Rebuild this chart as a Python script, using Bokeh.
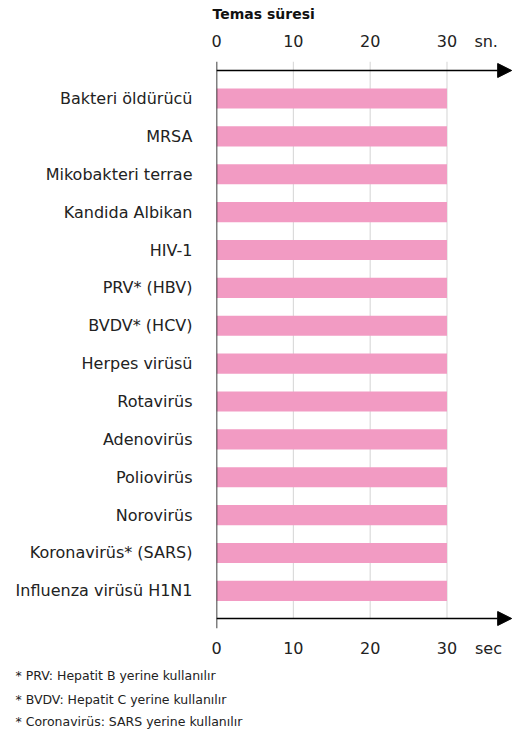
from bokeh.plotting import figure
from bokeh.models import (Range1d, LinearAxis, FixedTicker, Arrow, NormalHead, Title)
from bokeh.embed import file_html
from bokeh.resources import INLINE

# ---- data ----
categories = ["Bakteri öldürücü", "MRSA", "Mikobakteri terrae", "Kandida Albikan",
              "HIV-1", "PRV* (HBV)", "BVDV* (HCV)", "Herpes virüsü", "Rotavirüs",
              "Adenovirüs", "Poliovirüs", "Norovirüs", "Koronavirüs* (SARS)",
              "Influenza virüsü H1N1"]
contact_time = [30, 30, 30, 30, 30, 30, 30, 30, 30, 30, 30, 30, 30, 30]
x_ticks = [0, 10, 20, 30]
grid_ticks = [10, 20, 30]
title_text = "Temas süresi"
unit_top = "sn."
unit_bottom = "sec"
footnotes = ["* PRV: Hepatit B yerine kullanılır",
             "* BVDV: Hepatit C yerine kullanılır",
             "* Coronavirüs: SARS yerine kullanılır"]

FONT = "DejaVu Sans"
TXT = "#222222"
PINK = "#f29bc3"

rows = list(range(len(categories)))
PX_Y = 37.88                      # pixels per row
PX_X = 7.683                      # pixels per second
Y_AX_TOP = -0.74                  # top axis line (row units)
Y_AX_BOT = len(categories) - 1 + 0.73
Y_FR_TOP = Y_AX_TOP - 9 / PX_Y    # frame a little larger than the axes
Y_FR_BOT = Y_AX_BOT + 10 / PX_Y
W, H = 520, 735
ML, MR, MT = 216, 5, 61
FRAME_H = (Y_FR_BOT - Y_FR_TOP) * PX_Y
MB = H - MT - int(round(FRAME_H))
X_END = (W - ML - MR) / PX_X
X_TIP = 38.42
UNIT_X_TOP = 35.1
UNIT_X_BOT = 35.4

p = figure(width=W, height=H, output_backend="svg", toolbar_location=None, tools="",
           x_range=Range1d(0, X_END), y_range=Range1d(Y_FR_BOT, Y_FR_TOP),
           min_border_left=ML, min_border_right=MR, min_border_top=MT, min_border_bottom=MB)
p.outline_line_color = None
p.background_fill_color = "white"
p.border_fill_color = "white"
p.xgrid.grid_line_color = None
p.ygrid.grid_line_color = None

# grid lines (extend slightly above the top axis like tick marks)
p.segment(x0=grid_ticks, x1=grid_ticks, y0=[Y_FR_TOP] * len(grid_ticks), y1=[Y_AX_BOT] * len(grid_ticks),
          line_color="#d4d4d4", line_width=1)

p.hbar(y=rows, left=0, right=contact_time, height=0.53, fill_color=PINK, line_color=None)

# left axis with category labels
ya = p.yaxis[0]
ya.ticker = FixedTicker(ticks=rows)
ya.major_label_overrides = {i: c for i, c in zip(rows, categories)}
ya.axis_line_color = None
ya.major_tick_line_color = None
ya.minor_tick_line_color = None
ya.major_tick_out = 0
ya.major_tick_in = 0
ya.major_label_standoff = 24
ya.major_label_text_font = FONT
ya.major_label_text_font_size = "16px"
ya.major_label_text_color = TXT


def style_x(ax, standoff):
    ax.axis_line_color = None
    ax.major_tick_line_color = None
    ax.minor_tick_line_color = None
    ax.major_tick_out = 0
    ax.major_tick_in = 0
    ax.major_label_standoff = standoff
    ax.major_label_text_font = FONT
    ax.major_label_text_font_size = "16px"
    ax.major_label_text_color = TXT


# bottom axis (unit as an extra labelled tick)
xb = p.xaxis[0]
xb.ticker = FixedTicker(ticks=x_ticks + [UNIT_X_BOT])
xb.major_label_overrides = {UNIT_X_BOT: unit_bottom}
style_x(xb, 10)

# top axis
xt = LinearAxis(ticker=FixedTicker(ticks=x_ticks + [UNIT_X_TOP]))
xt.major_label_overrides = {UNIT_X_TOP: unit_top}
style_x(xt, 11)
p.add_layout(xt, "above")

# axis lines with arrowheads
for yy in (Y_AX_TOP, Y_AX_BOT):
    p.add_layout(Arrow(end=NormalHead(size=14, fill_color="black", line_color="black", line_width=1),
                       x_start=0, y_start=yy, x_end=X_TIP, y_end=yy,
                       line_color="black", line_width=1.5))
# vertical zero line, slightly extended past both axes
p.add_layout(Arrow(end=None, x_start=0, y_start=Y_FR_TOP, x_end=0, y_end=Y_FR_BOT,
                   line_color="black", line_width=1.5))

# title
p.title = Title(text=title_text, text_font=FONT, text_font_size="14px", text_font_style="bold",
                text_color="#111111", align="left", offset=-4, standoff=9, vertical_align="top")
p.title_location = "above"

# footnotes
for i, note in enumerate(footnotes):
    p.add_layout(Title(text=note, text_font=FONT, text_font_size="12.5px", text_font_style="normal",
                       text_color=TXT, align="left", offset=-201, standoff=[10, 4, 6][i]), "below")

open("out.html", "w").write(file_html(p, INLINE))
